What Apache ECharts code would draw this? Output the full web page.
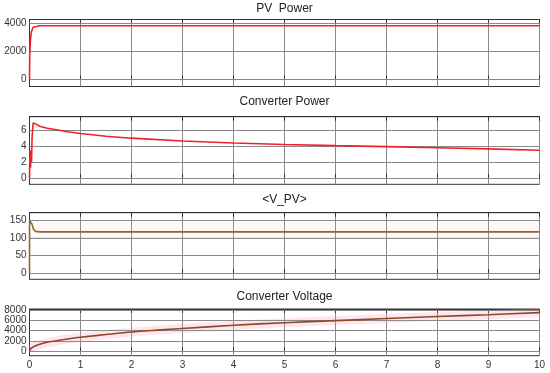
<!DOCTYPE html>
<html><head><meta charset="utf-8">
<script src="https://cdn.jsdelivr.net/npm/echarts@6/dist/echarts.min.js"></script>
<style>html,body{margin:0;padding:0;background:#fff}#c{width:550px;height:373px}</style>
</head><body><div id="c"></div>
<script>
// ---- data ----
const titles = ['PV  Power', 'Converter Power', '<V_PV>', 'Converter Voltage'];
const xTicks = [0,1,2,3,4,5,6,7,8,9,10];

const tPV = [0, 0.005, 0.02, 0.04, 0.07, 0.1, 0.2, 1, 5, 10];
const vPV = [0, 1800, 2900, 3400, 3700, 3790, 3810, 3810, 3810, 3810];
const yTicksPV = [0, 2000, 4000];

const tCP = [0, 0.01, 0.02, 0.03, 0.04, 0.05, 0.07, 0.09, 0.12, 0.2, 0.35, 0.5, 0.75, 1, 1.5, 2, 3, 4, 5, 6, 7, 8, 9, 10];
const vCP = [0, 3.5, 1.3, 3.2, 2.0, 5.0, 6.9, 7.0, 6.8, 6.5, 6.25, 6.1, 5.8, 5.58, 5.25, 5.0, 4.65, 4.4, 4.2, 4.06, 3.94, 3.8, 3.65, 3.48];
const yTicksCP = [0, 2, 4, 6];

const tV = [0, 0.001, 0.02, 0.05, 0.08, 0.12, 0.2, 1, 5, 10];
const vV = [0, 150, 155, 140, 125, 119.5, 118, 118, 118, 118];
const tBandV = [0.1, 10];
const bandHiV = [148, 148];
const bandLoV = 100;
const yTicksV = [0, 50, 100, 150];

const tCV = [0, 0.02, 0.05, 0.1, 0.2, 0.35, 0.5, 0.75, 1, 1.5, 2, 2.5, 3, 4, 5, 6, 7, 8, 9, 10];
const vCV = [0, 450, 700, 1000, 1350, 1750, 2000, 2400, 2720, 3250, 3750, 4100, 4420, 5050, 5550, 5950, 6350, 6750, 7100, 7500];
const yTicksCV = [0, 2000, 4000, 6000, 8000];

// ---- layout ----
const L = 29.5, R = 10.5;
const grids = [
  {top: 19.5, height: 67},
  {top: 116.7, height: 67.6},
  {top: 212.7, height: 66.6},
  {top: 309, height: 46.7}
];
const yRanges = [
  {min: -500, max: 4250, interval: 250, ticks: yTicksPV},
  {min: -0.8, max: 7.7, interval: 0.1, ticks: yTicksCP},
  {min: -18, max: 173, interval: 1, ticks: yTicksV},
  {min: -850, max: 8200, interval: 50, ticks: yTicksCV}
];
const titleCenters = [10, 103, 201, 298];
const FONT = 'Liberation Sans, Arial, sans-serif';
const gridColor = '#8a8a8a';
const boxColor = '#333';

function pairs(t, v) { return t.map((x, i) => [x, v[i]]); }

const option = {
  animation: false,
  backgroundColor: '#fff',
  title: titles.map((t, i) => ({
    text: t, left: L + (550 - L - R) / 2, top: titleCenters[i] - 7, textAlign: 'center', padding: 0,
    textStyle: {fontFamily: FONT, fontSize: 12, fontWeight: 'normal', color: '#222'}
  })),
  grid: grids.map(g => ({left: L, right: R, top: g.top, height: g.height, show: true,
    borderColor: boxColor, borderWidth: 1, backgroundColor: 'transparent', containLabel: false})),
  xAxis: [],
  yAxis: [],
  series: []
};

grids.forEach((g, i) => {
  option.xAxis.push({
    type: 'value', gridIndex: i, min: 0, max: 10, interval: 1, position: 'bottom',
    axisLine: {show: true, lineStyle: {color: boxColor}},
    axisTick: {show: true, inside: true, length: 4, lineStyle: {color: boxColor}},
    axisLabel: {show: i === 3, fontFamily: FONT, fontSize: 10, color: '#333', margin: 5},
    splitLine: {show: true, lineStyle: {color: gridColor, width: 1}}
  });
  option.xAxis.push({
    type: 'value', gridIndex: i, min: 0, max: 10, interval: 1, position: 'top',
    axisLine: {show: true, lineStyle: {color: boxColor}},
    axisTick: {show: true, inside: true, length: 4, lineStyle: {color: boxColor}},
    axisLabel: {show: false}, splitLine: {show: false}
  });
  const yr = yRanges[i];
  option.yAxis.push({
    type: 'value', gridIndex: i, min: yr.min, max: yr.max, interval: yr.interval,
    axisLine: {show: true, lineStyle: {color: boxColor}},
    axisTick: {show: false},
    splitLine: {show: false},
    axisLabel: {
      show: true, fontFamily: FONT, fontSize: 10, color: '#333', margin: 3,
      showMinLabel: false, showMaxLabel: false,
      formatter: v => {
        const hit = yr.ticks.find(t => Math.abs(t - v) < 1e-6);
        return hit === undefined ? '' : String(hit);
      }
    }
  });
  // gridlines for y ticks (drawn as markLines on a helper series)
  option.series.push({
    type: 'line', xAxisIndex: i * 2, yAxisIndex: i, data: [[0, yr.ticks[0]]], symbol: 'none',
    lineStyle: {opacity: 0}, silent: true, z: 1,
    markLine: {
      silent: true, symbol: 'none', label: {show: false}, animation: false,
      lineStyle: {color: gridColor, width: 1, type: 'solid'},
      data: yr.ticks.map(t => ({yAxis: t}))
    }
  });
});

// Panel 1: PV Power
option.series.push({type: 'line', xAxisIndex: 0, yAxisIndex: 0, data: pairs(tPV, vPV),
  symbol: 'none', lineStyle: {color: '#f0202a', width: 1.6}, z: 5});
// Panel 2: Converter Power
option.series.push({type: 'line', xAxisIndex: 2, yAxisIndex: 1, data: pairs(tCP, vCP),
  symbol: 'none', lineStyle: {color: '#f0202a', width: 1.6}, z: 5});
// Panel 3: <V_PV>
option.series.push({type: 'line', xAxisIndex: 4, yAxisIndex: 2,
  data: pairs(tBandV, bandHiV), symbol: 'none', lineStyle: {opacity: 0},
  areaStyle: {origin: bandLoV, color: 'rgba(255,150,180,0.13)'}, z: 2, silent: true});
option.series.push({type: 'line', xAxisIndex: 4, yAxisIndex: 2,
  data: pairs([0, 10], [bandLoV, bandLoV]), symbol: 'none',
  lineStyle: {color: 'rgba(240,110,140,0.55)', width: 1}, z: 3, silent: true});
option.series.push({type: 'line', xAxisIndex: 4, yAxisIndex: 2, data: pairs(tV, vV),
  symbol: 'none', lineStyle: {color: '#8a6a2c', width: 1.6}, z: 5});
// Panel 4: Converter Voltage
option.series.push({type: 'line', xAxisIndex: 6, yAxisIndex: 3, data: pairs(tCV, vCV),
  symbol: 'none', lineStyle: {color: 'rgba(255,150,180,0.25)', width: 9}, z: 2, silent: true});
option.series.push({type: 'line', xAxisIndex: 6, yAxisIndex: 3, data: pairs(tCV, vCV),
  symbol: 'none', smooth: 0.3, lineStyle: {color: '#8a4a28', width: 1.6}, z: 5});

const chart = echarts.init(document.getElementById('c'), null, {renderer: 'canvas'});
chart.setOption(option);
</script></body></html>
